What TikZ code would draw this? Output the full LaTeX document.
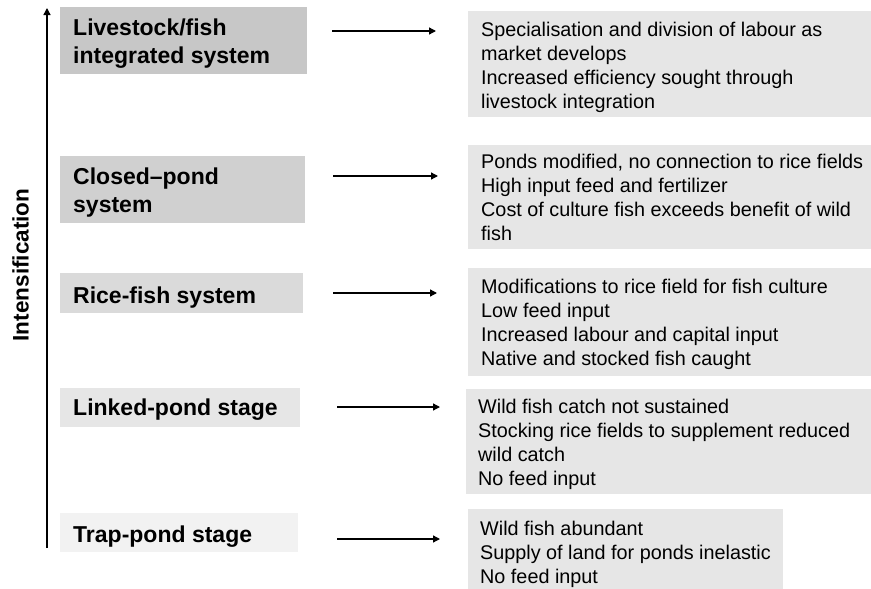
\documentclass[tikz,border=0pt]{standalone}
\usepackage{fontspec}
\setmainfont{Liberation Sans}
\usetikzlibrary{arrows.meta}
\definecolor{lg1}{RGB}{199,199,199}
\definecolor{lg2}{RGB}{208,208,208}
\definecolor{lg3}{RGB}{218,218,218}
\definecolor{lg4}{RGB}{230,230,230}
\definecolor{lg5}{RGB}{242,242,242}
\definecolor{rg}{RGB}{230,230,230}
\begin{document}
\begin{tikzpicture}[x=1pt,y=-1pt,
  box/.style={draw=none, inner sep=0pt, outer sep=0pt, anchor=north west},
  ltxt/.style={font=\bfseries\fontsize{23}{28}\selectfont, anchor=base west, inner sep=0pt, align=left},
  rtxt/.style={font=\fontsize{19.8}{24}\selectfont, anchor=base west, inner sep=0pt, align=left},
  arr/.style={-{Triangle[length=7pt,width=7pt]}, line width=1.3pt}
]
\useasboundingbox (0,0) rectangle (871,589);

% left boxes
\node[box, fill=lg1, minimum width=247pt, minimum height=67pt] (L1) at (60,7) {};
\node[box, fill=lg2, minimum width=245pt, minimum height=67pt] (L2) at (60,156) {};
\node[box, fill=lg3, minimum width=243pt, minimum height=40pt] (L3) at (60,273) {};
\node[box, fill=lg4, minimum width=240pt, minimum height=39pt] (L4) at (60,388) {};
\node[box, fill=lg5, minimum width=238pt, minimum height=39pt] (L5) at (60,513) {};

% multi-line nodes: base anchor is the baseline of the last line
\node[ltxt] (L1t) at (73,63) {Livestock/fish\\integrated system};
\node[ltxt] (L2t) at (73,212) {Closed–pond\\system};
\node[ltxt] (L3t) at (73,303) {Rice-fish system};
\node[ltxt] (L4t) at (73,415) {Linked-pond stage};
\node[ltxt] (L5t) at (73,542) {Trap-pond stage};

% right boxes
\node[box, fill=rg, minimum width=403pt, minimum height=106pt] (R1) at (468,11) {};
\node[box, fill=rg, minimum width=403pt, minimum height=104pt] (R2) at (468,145) {};
\node[box, fill=rg, minimum width=403pt, minimum height=108pt] (R3) at (468,268) {};
\node[box, fill=rg, minimum width=405pt, minimum height=105pt] (R4) at (466,389) {};
\node[box, fill=rg, minimum width=315pt, minimum height=80pt] (R5) at (468,509) {};

\node[rtxt] (R1t) at (481,108) {Specialisation and division of labour as\\market develops\\Increased efficiency sought through\\livestock integration};
\node[rtxt] (R2t) at (481,240) {Ponds modified, no connection to rice fields\\High input feed and fertilizer\\Cost of culture fish exceeds benefit of wild\\fish};
\node[rtxt] (R3t) at (481,365) {Modifications to rice field for fish culture\\Low feed input\\Increased labour and capital input\\Native and stocked fish caught};
\node[rtxt] (R4t) at (478,485) {Wild fish catch not sustained\\Stocking rice fields to supplement reduced\\wild catch\\No feed input};
\node[rtxt] (R5t) at (480,583) {Wild fish abundant\\Supply of land for ponds inelastic\\No feed input};

% vertical axis
\coordinate (vs) at (47,548);
\coordinate (ve) at (47,8);
\draw[arr] (vs) -- (ve);
\node[rotate=90, font=\bfseries\fontsize{22.5}{24}\selectfont, inner sep=0pt] (int) at (20.5,265) {Intensification};

% horizontal arrows
\coordinate (a1s) at (332,31);  \coordinate (a1e) at (436,31);
\coordinate (a2s) at (333,176); \coordinate (a2e) at (438,176);
\coordinate (a3s) at (333,293); \coordinate (a3e) at (437,293);
\coordinate (a4s) at (337,407); \coordinate (a4e) at (440,407);
\coordinate (a5s) at (337,539); \coordinate (a5e) at (440,539);
\draw[arr] (a1s) -- (a1e);
\draw[arr] (a2s) -- (a2e);
\draw[arr] (a3s) -- (a3e);
\draw[arr] (a4s) -- (a4e);
\draw[arr] (a5s) -- (a5e);
\end{tikzpicture}
\end{document}
